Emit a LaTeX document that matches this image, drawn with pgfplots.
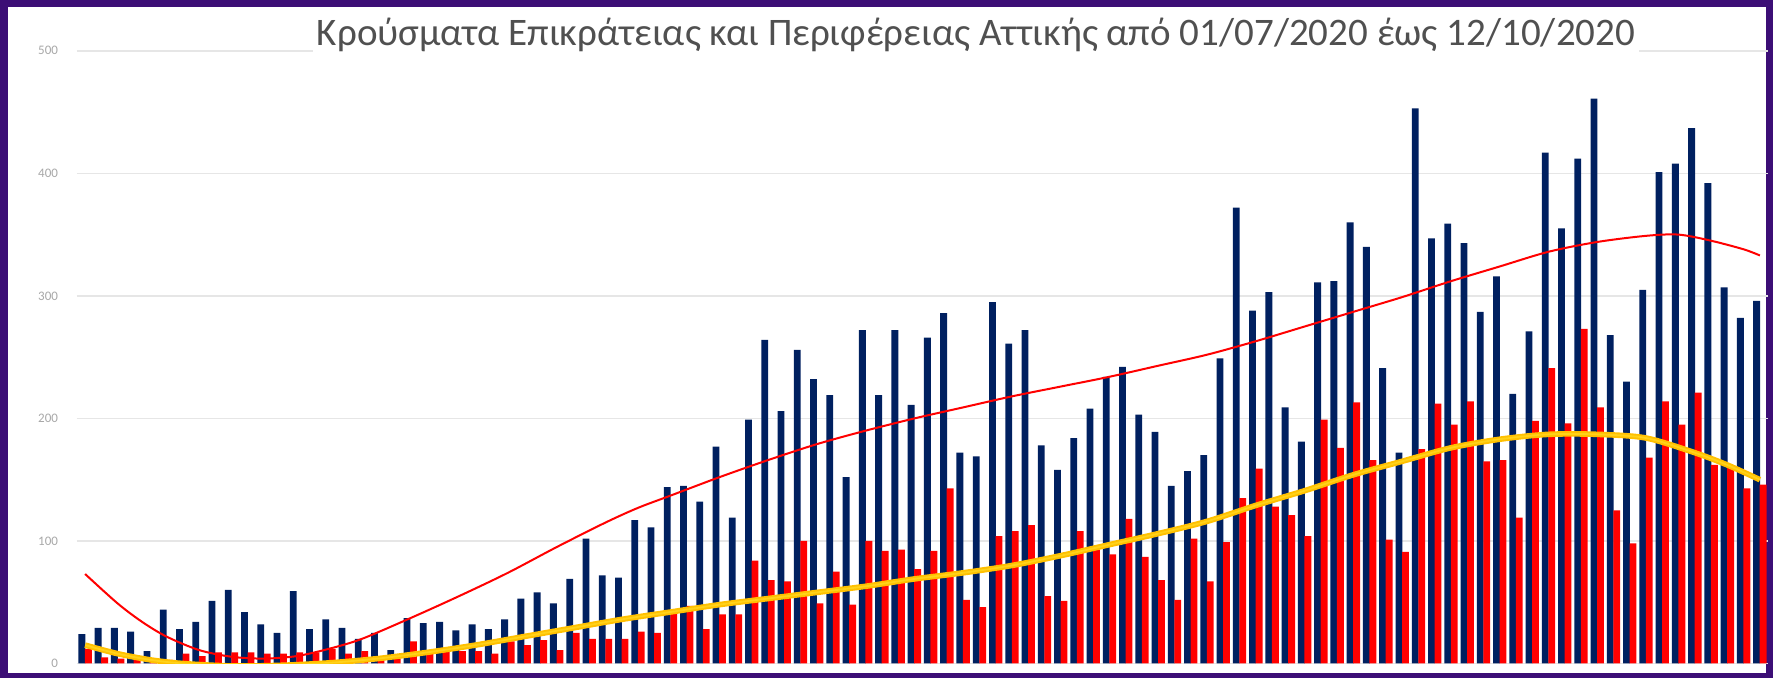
\documentclass[border=0pt]{standalone}
\usepackage{fontspec}
\setmainfont{Carlito}
\usepackage{pgfplots}
\usepackage{pgfplotstable}
\pgfplotsset{compat=1.18}
\definecolor{bgpurple}{HTML}{3C0E76}
\definecolor{navy}{HTML}{002060}
\definecolor{trendy}{HTML}{FFC000}
\definecolor{trendcore}{HTML}{FFD21A}
\definecolor{titlegray}{HTML}{505050}
\definecolor{gridgray}{HTML}{E6E6E6}
\definecolor{tickgray}{HTML}{A8A8A8}

\pgfplotstableread{
day blue red
0 24 12
1 29 5
2 29 4
3 26 3
4 10 2
5 44 3
6 28 8
7 34 6
8 51 9
9 60 9
10 42 9
11 32 8
12 25 8
13 59 9
14 28 9
15 36 12
16 29 8
17 20 10
18 25 3
19 11 4
20 37 18
21 33 8
22 34 11
23 27 10
24 32 10
25 28 8
26 36 18
27 53 15
28 58 19
29 49 11
30 69 25
31 102 20
32 72 20
33 70 20
34 117 26
35 111 25
36 144 41
37 145 47
38 132 28
39 177 40
40 119 40
41 199 84
42 264 68
43 206 67
44 256 100
45 232 49
46 219 75
47 152 48
48 272 100
49 219 92
50 272 93
51 211 77
52 266 92
53 286 143
54 172 52
55 169 46
56 295 104
57 261 108
58 272 113
59 178 55
60 158 51
61 184 108
62 208 93
63 234 89
64 242 118
65 203 87
66 189 68
67 145 52
68 157 102
69 170 67
70 249 99
71 372 135
72 288 159
73 303 128
74 209 121
75 181 104
76 311 199
77 312 176
78 360 213
79 340 166
80 241 101
81 172 91
82 453 175
83 347 212
84 359 195
85 343 214
86 287 165
87 316 166
88 220 119
89 271 198
90 417 241
91 355 196
92 412 273
93 461 209
94 268 125
95 230 98
96 305 168
97 401 214
98 408 195
99 437 221
100 392 162
101 307 161
102 282 143
103 296 146
}\cases

\begin{document}
\begin{tikzpicture}
\fill[bgpurple] (0pt,0pt) rectangle (886.5pt,339pt);
\fill[white] (4pt,2.5pt) rectangle (883pt,335.5pt);
\begin{axis}[
  at={(38.5pt,7.25pt)}, anchor=south west,
  scale only axis, width=845.5pt, height=306.35pt,
  xmin=-0.5, xmax=103.5, ymin=0, ymax=500,
  axis line style={draw=none},
  xtick=\empty, ytick={0,100,...,500},
  ymajorgrids, grid style={gridgray, line width=0.75pt},
  major tick length=0pt,
  yticklabel style={font=\fontsize{6.5}{8}\selectfont, text=tickgray},
  yticklabel shift=6pt,
  /pgf/number format/assume math mode=true,
]
\addplot[ybar, bar width=0.42, bar shift=-0.2, fill=navy, draw=none] table[x=day,y=blue]{\cases};
\addplot[ybar, bar width=0.42, bar shift=0.2, fill=red, draw=none] table[x=day,y=red]{\cases};
\addplot[red, line width=1pt, smooth] coordinates {
(0,73) (2,49) (3.5,34) (5,22) (7,11) (9,5.5) (11,4) (13,6) (15,12) (17,20) (20,37) (23,55) (26,74) (29,95) (32,115) (34,127) (36,137) (39,152) (42,166) (45,179) (48,190) (51,200) (54,209) (57,218) (60,226) (63,234) (66,243) (69,252) (72,263) (75,275) (78,287) (81,299) (84,312) (87,324) (90,336) (93,344) (96,349) (98,350) (100,345) (102,338) (103,333)};
\addplot[trendy, line width=2.8pt, smooth] coordinates {
(0,15) (2,8) (4,3) (6,0) (9,-2) (12,-1.5) (15,0.5) (18,4) (21,9) (24,15) (27,22) (30,29) (33,36) (36,42) (39,48) (42,53) (45,58) (48,63) (51,69) (54,74) (57,80) (60,88) (63,97) (66,106) (69,116) (72,129) (75,141) (78,154) (81,165) (84,176) (87,183) (90,187) (93,187) (96,184) (99,172) (101,162) (103,150)};
\addplot[trendcore, line width=0.9pt, smooth] coordinates {
(0,15) (2,8) (4,3) (6,0) (9,-2) (12,-1.5) (15,0.5) (18,4) (21,9) (24,15) (27,22) (30,29) (33,36) (36,42) (39,48) (42,53) (45,58) (48,63) (51,69) (54,74) (57,80) (60,88) (63,97) (66,106) (69,116) (72,129) (75,141) (78,154) (81,165) (84,176) (87,183) (90,187) (93,187) (96,184) (99,172) (101,162) (103,150)};
\end{axis}
\node[fill=white, inner sep=2pt, text=titlegray, font=\fontsize{19.5}{22}\selectfont] at (488pt,321.5pt) {Κρούσματα Επικράτειας και Περιφέρειας Αττικής από 01/07/2020 έως 12/10/2020};
\end{tikzpicture}
\end{document}
